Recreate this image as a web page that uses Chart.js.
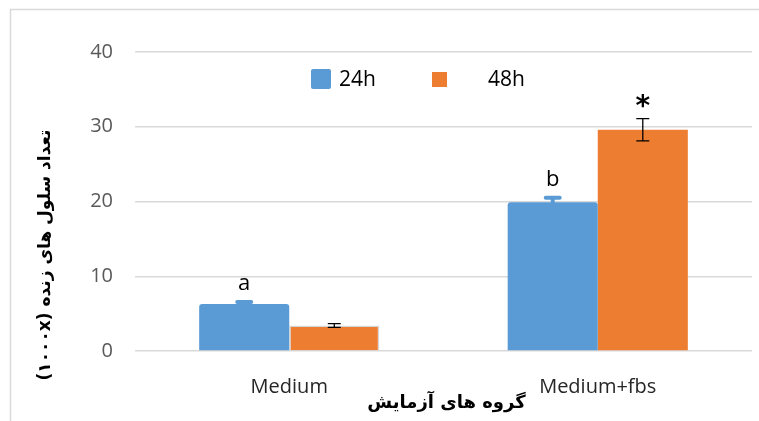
<!DOCTYPE html>
<html>
<head>
<meta charset="utf-8">
<script src="https://cdn.jsdelivr.net/npm/chart.js@4.4.1/dist/chart.umd.min.js"></script>
<style>
    html, body { margin: 0; padding: 0; background: #fff; }
    canvas { display: block; }
</style>
</head>
<body>
<canvas id="chart" width="759" height="421"></canvas>
<script>
// Chart data
const categories = ['Medium', 'Medium+fbs'];
const seriesNames = ['24h', '48h'];
const values24h = [6.3, 19.9];
const values48h = [3.4, 29.6];
const errors24h = [0.25, 0.6];
const errors48h = [0.25, 1.5];
const marks24h = ['a', 'b'];
const marks48h = ['', '*'];
const yTicks = [0, 10, 20, 30, 40];
const yTitle = 'تعداد سلول های زنده (۱۰۰۰x)';
const xTitle = 'گروه های آزمایش';

const BLUE = '#5B9BD5';
const ORANGE = '#ED7D31';
const LATIN = '"Open Sans", sans-serif';
const ARABIC = '"DejaVu Sans", sans-serif';

/**
 * Frame, axis titles, legend, error bars and significance letters
 */
const extrasPlugin = {
    id: 'extras',
    beforeDraw(chart) {
        const ctx = chart.ctx;
        ctx.save();
        ctx.strokeStyle = '#d9d9d9';
        ctx.lineWidth = 1.5;
        ctx.beginPath();
        ctx.moveTo(10.5, chart.height);
        ctx.lineTo(10.5, 9.5);
        ctx.lineTo(chart.width, 9.5);
        ctx.stroke();
        ctx.restore();
    },
    afterDatasetsDraw(chart) {
        const ctx = chart.ctx;
        const y = chart.scales.y;
        const errors = [errors24h, errors48h];
        const marks = [marks24h, marks48h];

        chart.data.datasets.forEach((ds, di) => {
            const meta = chart.getDatasetMeta(di);
            meta.data.forEach((bar, i) => {
                const v = ds.data[i];
                const e = errors[di][i];
                const top = y.getPixelForValue(v + e);
                const bottom = y.getPixelForValue(v - e);
                ctx.save();
                if (di === 0) {
                    // blue error bar, thick rounded caps
                    ctx.strokeStyle = BLUE;
                    ctx.lineCap = 'round';
                    ctx.lineWidth = 4;
                    ctx.beginPath();
                    ctx.moveTo(bar.x, top);
                    ctx.lineTo(bar.x, bottom);
                    ctx.moveTo(bar.x - 7, top);
                    ctx.lineTo(bar.x + 7, top);
                    ctx.stroke();
                } else {
                    ctx.strokeStyle = '#000';
                    ctx.lineWidth = 1.3;
                    ctx.beginPath();
                    ctx.moveTo(bar.x, top);
                    ctx.lineTo(bar.x, bottom);
                    ctx.moveTo(bar.x - 6.5, top);
                    ctx.lineTo(bar.x + 6.5, top);
                    ctx.moveTo(bar.x - 6.5, bottom);
                    ctx.lineTo(bar.x + 6.5, bottom);
                    ctx.stroke();
                }

                const mark = marks[di][i];
                if (mark) {
                    ctx.fillStyle = '#000';
                    ctx.textAlign = 'center';
                    ctx.textBaseline = 'alphabetic';
                    if (mark === '*') {
                        ctx.font = 'bold 28px ' + ARABIC;
                        ctx.fillText(mark, bar.x, top - 4);
                    } else {
                        ctx.font = '22px ' + LATIN;
                        ctx.fillText(mark, bar.x, top - 12);
                    }
                }
                ctx.restore();
            });
        });
    },
    afterDraw(chart) {
        const ctx = chart.ctx;
        const area = chart.chartArea;
        ctx.save();

        // legend
        ctx.fillStyle = BLUE;
        ctx.beginPath();
        ctx.roundRect(311, 69, 20, 20, 2);
        ctx.fill();
        ctx.fillStyle = ORANGE;
        ctx.fillRect(432, 72, 15, 15);
        ctx.fillStyle = '#000';
        ctx.font = '21px ' + LATIN;
        ctx.textBaseline = 'middle';
        ctx.textAlign = 'left';
        ctx.fillText(seriesNames[0], 339, 80);
        ctx.fillText(seriesNames[1], 488, 80);

        // x axis title
        ctx.direction = 'rtl';
        ctx.textAlign = 'center';
        ctx.font = 'bold 18px ' + ARABIC;
        ctx.fillText(xTitle, (area.left + area.right) / 2 + 3, 403);

        // y axis title
        ctx.translate(46, 255);
        ctx.rotate(-Math.PI / 2);
        ctx.font = 'bold 17px ' + ARABIC;
        ctx.fillText(yTitle, 0, 0);
        ctx.restore();
    }
};

const ctx = document.getElementById('chart').getContext('2d');
const chart = new Chart(ctx, {
    type: 'bar',
    data: {
        labels: categories,
        datasets: [
            {
                label: seriesNames[0],
                data: values24h,
                backgroundColor: BLUE,
                borderRadius: { topLeft: 3, topRight: 3 },
                borderSkipped: 'bottom'
            },
            {
                label: seriesNames[1],
                data: values48h,
                backgroundColor: ORANGE,
                borderWidth: [1.5, 0],
                borderColor: '#d6d6d6'
            }
        ]
    },
    options: {
        responsive: false,
        devicePixelRatio: 1,
        animation: false,
        layout: { padding: { top: 52, right: 7, left: 0, bottom: 0 } },
        datasets: {
            bar: { barPercentage: 1, categoryPercentage: 0.584 }
        },
        plugins: {
            legend: { display: false },
            tooltip: { enabled: false }
        },
        scales: {
            x: {
                grid: { display: false },
                border: { display: false },
                ticks: {
                    color: '#262626',
                    font: { family: LATIN, size: 20 },
                    padding: 16
                },
                afterFit(scale) { scale.height = 70; }
            },
            y: {
                min: 0,
                max: 40,
                afterBuildTicks(scale) {
                    scale.ticks = yTicks.map(v => ({ value: v }));
                },
                grid: { color: '#d9d9d9', lineWidth: 1.5, drawTicks: false },
                border: { display: false },
                ticks: {
                    color: '#595959',
                    font: { family: LATIN, size: 20 },
                    padding: 22
                },
                afterFit(scale) { scale.width = 135; }
            }
        }
    },
    plugins: [extrasPlugin]
});
</script>
</body>
</html>
